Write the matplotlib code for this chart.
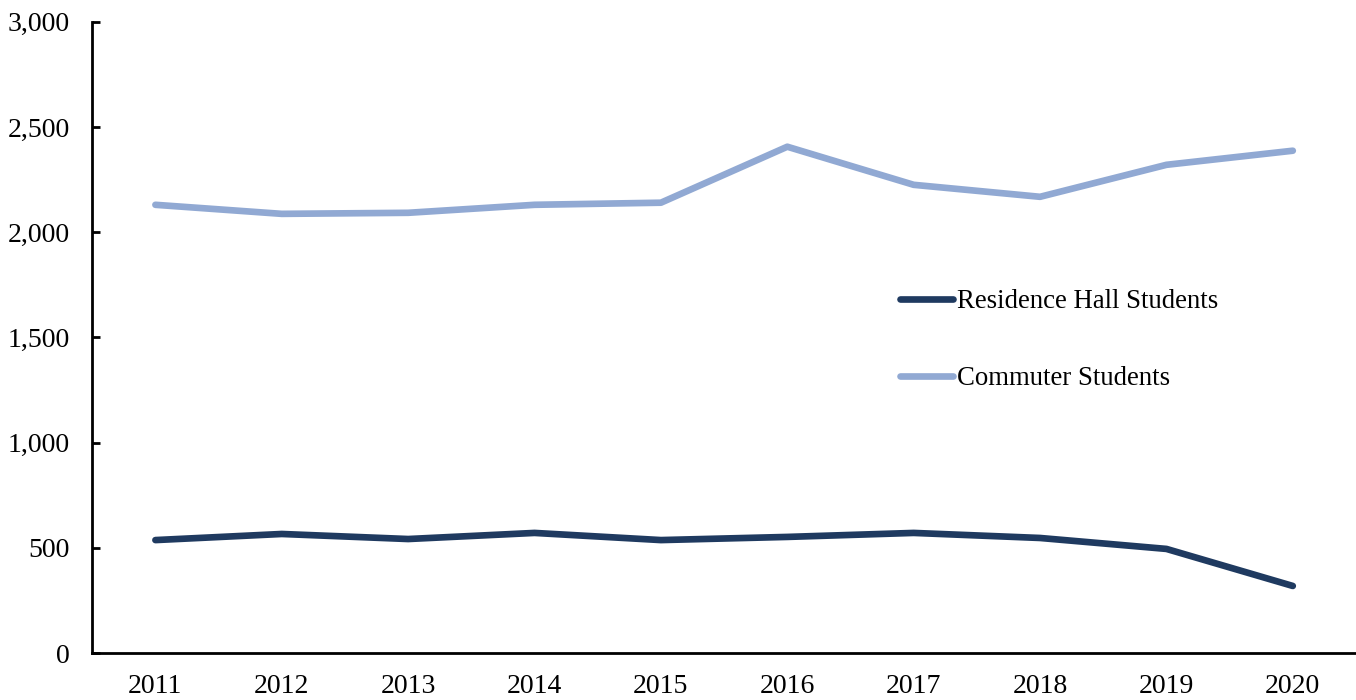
import matplotlib.pyplot as plt
from matplotlib.ticker import FuncFormatter

# values
years = ['2011', '2012', '2013', '2014', '2015', '2016', '2017', '2018', '2019', '2020']
residence = [537, 566, 542, 571, 537, 552, 571, 547, 495, 319]
commuter = [2130, 2087, 2092, 2130, 2140, 2406, 2225, 2168, 2320, 2387]

plt.rcParams['font.family'] = ['Liberation Serif', 'DejaVu Serif']

fig = plt.figure(figsize=(13.56, 7.0), dpi=100)
ax = fig.add_axes([0.068, 0.067, 0.932, 0.902])

x = range(len(years))
ax.plot(x, residence, color='#1f3a60', lw=4.8, solid_capstyle='round', label='Residence Hall Students')
ax.plot(x, commuter, color='#91a9d3', lw=4.8, solid_capstyle='round', label='Commuter Students')

ax.set_xlim(-0.5, len(years) - 0.5)
ax.set_ylim(0, 3000)
ax.set_yticks(range(0, 3001, 500))
ax.yaxis.set_major_formatter(FuncFormatter(lambda v, p: f'{int(v):,}'))
ax.set_xticks(list(x))
ax.set_xticklabels(years)

for s in ['top', 'right']:
    ax.spines[s].set_visible(False)
for s in ['left', 'bottom']:
    ax.spines[s].set_linewidth(2)
ax.tick_params(axis='y', direction='in', length=6, width=2, labelsize=20, pad=16)
ax.tick_params(axis='x', length=0, labelsize=20, pad=15)

ax.legend(loc='center left', bbox_to_anchor=(0.639, 0.496), frameon=False,
          fontsize=19.3, handlelength=2.0, handletextpad=0.15,
          labelspacing=1.94, borderpad=0, borderaxespad=0)

fig.savefig('out.png', dpi=100)
